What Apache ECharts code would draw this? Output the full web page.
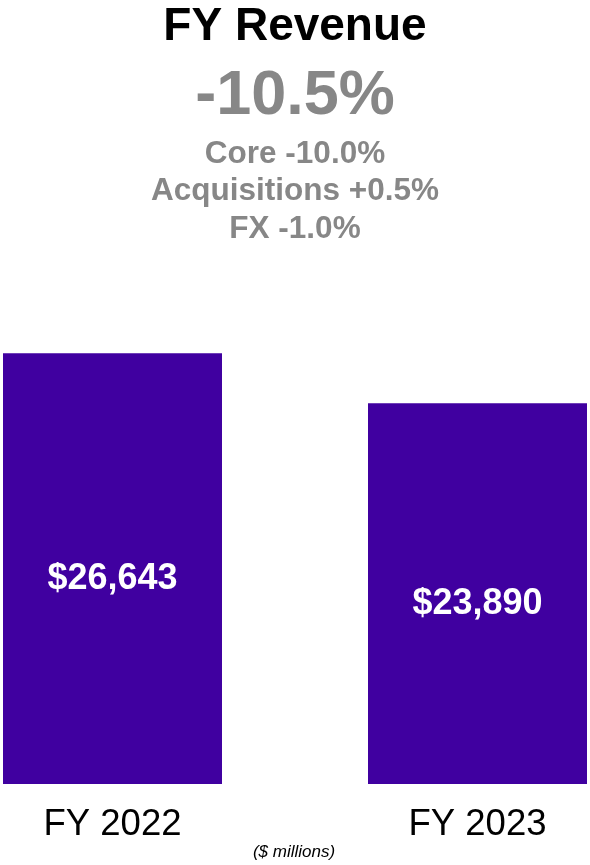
<!DOCTYPE html>
<html>
<head>
<meta charset="utf-8">
<script src="https://cdn.jsdelivr.net/npm/echarts@6/dist/echarts.min.js"></script>
<style>
  html, body { margin: 0; padding: 0; background: #fff; }
  #chart { width: 590px; height: 865px; }
</style>
</head>
<body>
<div id="chart"></div>
<script>
const categories = ['FY 2022', 'FY 2023'];
const revenue = [26643, 23890];
const headline = '-10.5%';
const breakdown = ['Core -10.0%', 'Acquisitions +0.5%', 'FX -1.0%'];

const font = 'Liberation Sans, Arial, sans-serif';
const grey = '#878787';

const fmt = (v) => '$' + String(v).replace(/(\d)(?=(\d{3})+$)/g, '$1,');

const chart = echarts.init(document.getElementById('chart'));

const texts = [
    { text: 'FY Revenue', y: 27, size: 46, color: '#000' },
    { text: headline, y: 97, size: 63, color: grey }
];
breakdown.forEach((t, i) => {
    texts.push({ text: t, y: 154 + i * 37.5, size: 31.5, color: grey });
});

const graphic = texts.map(t => ({
    type: 'text',
    x: 295,
    y: t.y,
    style: {
        text: t.text,
        fill: t.color,
        font: 'bold ' + t.size + 'px ' + font,
        textAlign: 'center',
        textVerticalAlign: 'middle'
    }
}));
graphic.push({
    type: 'text',
    x: 294,
    y: 852,
    style: {
        text: '($ millions)',
        fill: '#000',
        font: 'italic 17px ' + font,
        textAlign: 'center',
        textVerticalAlign: 'middle'
    }
});

// bars sit at x = 0, 1 on a value axis so the outer margins can differ from the gap
const positions = categories.map((c, i) => i);
const pad = 112.5 / 365;

chart.setOption({
    animation: false,
    grid: { left: 0, right: 0, top: 292, bottom: 81 },
    xAxis: {
        type: 'value',
        min: -pad,
        max: 1 + pad,
        splitLine: { show: false },
        axisLine: { show: false },
        axisTick: { show: false },
        axisLabel: {
            customValues: positions,
            formatter: v => categories[Math.round(v)],
            color: '#000', fontSize: 36.5, fontFamily: font, margin: 22
        }
    },
    yAxis: {
        type: 'value',
        min: 3000,
        max: 30000,
        show: false
    },
    series: [{
        type: 'bar',
        data: revenue.map((v, i) => [positions[i], v]),
        barWidth: 219,
        itemStyle: { color: '#4000A0' },
        label: {
            show: true,
            position: 'inside',
            offset: [0, 10],
            formatter: p => fmt(p.value[1]),
            color: '#fff',
            fontSize: 36,
            fontWeight: 'bold',
            fontFamily: font
        }
    }],
    graphic: graphic
});
</script>
</body>
</html>
